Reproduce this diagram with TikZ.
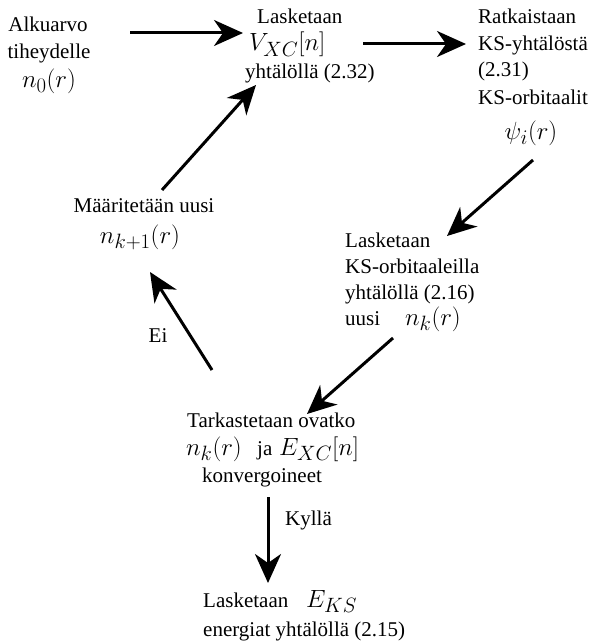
\documentclass[tikz,border=0pt]{standalone}
\usepackage{fontspec}
\setmainfont{Liberation Serif}
\usetikzlibrary{arrows.meta}
\tikzset{
  txt/.style={inner sep=0pt, anchor=base west, font=\fontsize{21}{25}\selectfont},
  txtc/.style={inner sep=0pt, anchor=base, font=\fontsize{21}{25}\selectfont},
  mth/.style={inner sep=0pt, anchor=base west, font=\fontsize{28}{30}\selectfont},
  mthc/.style={inner sep=0pt, anchor=base, font=\fontsize{28}{30}\selectfont},
  flow/.style={line width=3pt, -{Stealth[length=29pt,width=26pt,inset=9pt]}}
}
\begin{document}
\begin{tikzpicture}[x=1pt,y=-1pt]
\useasboundingbox (0,0) rectangle (595,642);
% start
\node[txtc] (s1) at (48,32) {Alkuarvo};
\node[txtc] (s2) at (49,59) {tiheydelle};
\node[mthc] (s3) at (49,88) {$n_0(r)$};
% V_XC
\node[txt] (v1) at (257,24) {Lasketaan};
\node[mth] (v2) at (249,51) {$V_{XC}[n]$};
\node[txt] (v3) at (245,78) {yhtälöllä (2.32)};
% KS
\node[txt] (k1) at (478,24) {Ratkaistaan};
\node[txt] (k2) at (478,51) {KS-yhtälöstä};
\node[txt] (k3) at (478,77) {(2.31)};
\node[txt] (k4) at (478,104) {KS-orbitaalit};
\node[mthc] (k5) at (531,139) {$\psi_i(r)$};
% density
\node[txt] (d1) at (345,247) {Lasketaan};
\node[txt] (d2) at (345,273) {KS-orbitaaleilla};
\node[txt] (d3) at (345,299) {yhtälöllä (2.16)};
\node[txt] (d4) at (345,325) {uusi};
\node[mth] (d5) at (405,325) {$n_k(r)$};
% new density
\node[txtc] (m1) at (144,212) {Määritetään uusi};
\node[mthc] (m2) at (140,243) {$n_{k+1}(r)$};
% check
\node[txt] (c1) at (187,427) {Tarkastetaan ovatko};
\node[mth] (c2) at (186,455) {$n_k(r)$};
\node[txt] (c3) at (257,455) {ja};
\node[mth] (c4) at (279,455) {$E_{XC}[n]$};
\node[txt] (c5) at (202,482) {konvergoineet};
% energy
\node[txt] (e1) at (203,607) {Lasketaan};
\node[mth] (e2) at (306,607) {$E_{KS}$};
\node[txt] (e3) at (203,636) {energiat yhtälöllä (2.15)};
% labels
\node[txtc] (ei) at (158,342) {Ei};
\node[txt] (ky) at (285,525) {Kyllä};
% arrow coordinates
\coordinate (a1s) at (130,33); \coordinate (a1e) at (243,33);
\coordinate (a2s) at (363,44); \coordinate (a2e) at (466,44);
\coordinate (a3s) at (533,160); \coordinate (a3e) at (447,236);
\coordinate (a4s) at (393,338); \coordinate (a4e) at (307,414);
\coordinate (a5s) at (212,370); \coordinate (a5e) at (150,272);
\coordinate (a6s) at (162,190); \coordinate (a6e) at (256,85);
\coordinate (a7s) at (268,497); \coordinate (a7e) at (268,583);
\draw[flow] (a1s) -- (a1e);
\draw[flow] (a2s) -- (a2e);
\draw[flow] (a3s) -- (a3e);
\draw[flow] (a4s) -- (a4e);
\draw[flow] (a5s) -- (a5e);
\draw[flow] (a6s) -- (a6e);
\draw[flow] (a7s) -- (a7e);
\end{tikzpicture}
\end{document}
